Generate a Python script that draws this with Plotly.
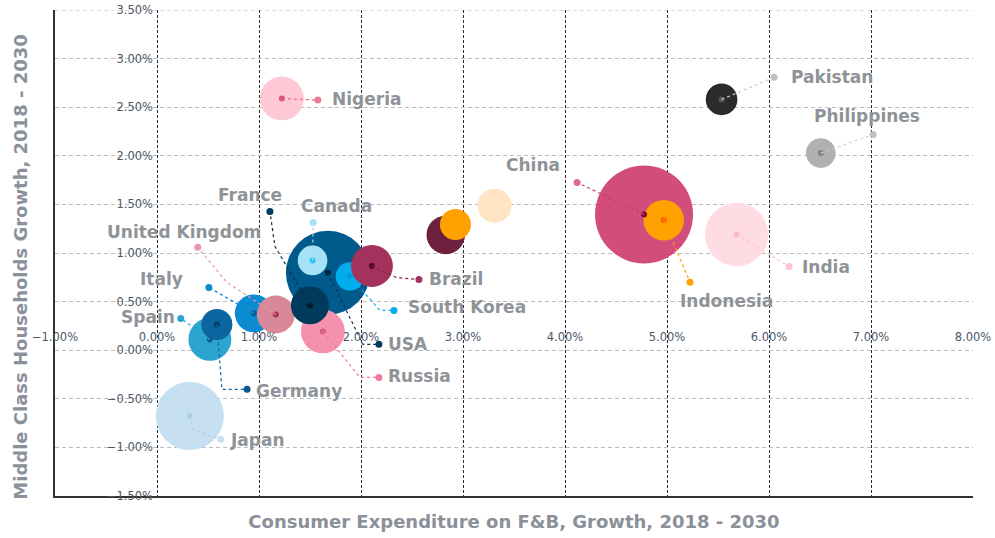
import plotly.graph_objects as go

# ---------------- data ----------------
countries = ["USA", "Canada", "South Korea", "Brazil", "Russia", "Italy", "United Kingdom",
             "France", "Spain", "Germany", "Japan", "China", "Indonesia", "India",
             "", "", "", "Nigeria", "Pakistan", "Philippines"]
fb_growth = [1.675, 1.525, 1.891, 2.107, 1.626, 0.949, 1.165, 1.499, 0.518, 0.587, 0.322,
             4.775, 4.968, 5.682, 2.831, 2.926, 3.310, 1.224, 5.535, 6.508]
mc_growth = [0.796, 0.924, 0.759, 0.867, 0.193, 0.379, 0.368, 0.461, 0.111, 0.265, -0.676,
             1.397, 1.337, 1.191, 1.186, 1.294, 1.487, 2.590, 2.580, 2.028]
market_size = [176, 22, 20, 44, 48, 36, 36, 36, 46, 24, 116, 240, 41, 100, 37, 24, 29, 48, 25, 22]

# ---------------- styles ----------------
bubble_colors = ["#005a8c", "#a6e2f7", "#00aeef", "#a3325d", "#f590ae", "#0a8bd2", "#d9889a",
                 "#003a5c", "#2ba5cf", "#0b65a0", "#c7e0f1", "#d24d7c", "#ffa100", "#ffdbe4",
                 "#6e203f", "#ffa100", "#ffe5c4", "#ffc8d5", "#2b2b2b", "#b0b0b0"]
center_colors = ["#00243d", "#2ec4f4", "#0096d6", "#4d0a24", "#d95a80", "#0a5f99", "#a8324f",
                 "#001828", "#0a5d95", "#053e68", "#a9d0ea", "#7d0f35", "#ff6000", "#ffb8c9",
                 None, None, None, "#d8587c", "#555555", "#808080"]

# label layout (leader end dot, optional bend, text position) for labelled countries
label_names = ["USA", "Canada", "South Korea", "Brazil", "Russia", "Italy", "United Kingdom",
               "France", "Spain", "Germany", "Japan", "China", "Indonesia", "India",
               "Nigeria", "Pakistan", "Philippines"]
label_dot_x = [2.175, 1.531, 2.323, 2.568, 2.175, 0.508, 0.400, 1.107, 0.233, 0.883, 0.626,
               4.118, 5.226, 6.197, 1.577, 6.050, 7.021]
label_dot_y = [0.060, 1.315, 0.409, 0.728, -0.280, 0.646, 1.058, 1.428, 0.327, -0.403, -0.917,
               1.726, 0.698, 0.862, 2.573, 2.807, 2.220]
label_bend_x = [2.019, None, 2.185, 2.352, 1.989, None, 0.685, 1.156, None, 0.636, 0.354,
                None, None, None, None, None, None]
label_bend_y = [0.060, None, 0.409, 0.745, -0.280, None, 0.698, 1.068, None, -0.403, -0.815,
                None, None, None, None, None, None]
label_text_x = [2.244, 1.764, 2.440, 2.647, 2.244, 0.273, 0.263, 0.910, 0.194, 0.949, 0.694,
                3.686, 5.579, 6.305, 1.695, 6.197, 6.962]
label_text_y = [0.060, 1.479, 0.440, 0.728, -0.270, 0.728, 1.212, 1.593, 0.337, -0.424, -0.928,
                1.901, 0.502, 0.852, 2.580, 2.806, 2.405]
label_anchor = ["left", "center", "left", "left", "left", "right", "center", "center", "right",
                "left", "left", "center", "center", "left", "left", "left", "center"]
leader_colors = ["#0a3350", "#9fdcf3", "#00aeef", "#8a1f47", "#f07a9c", "#0a8bd2", "#e996ab",
                 "#0d2a40", "#2ba5cf", "#0b65a0", "#a9cfe8", "#c43a6b", "#ffa100", "#ffc2d1",
                 "#e0607f", "#cccccc", "#cfcfcf"]
end_colors = ["#003a5c", "#a6e2f7", "#00aeef", "#a3325d", "#f07a9c", "#0a8bd2", "#e996ab",
              "#003a5c", "#2ba5cf", "#0b5a92", "#c7e0f1", "#e06a92", "#ffa100", "#ffc2d1",
              "#e87a95", "#c0c0c0", "#bfbfbf"]

X_RANGE = [-1, 8]
Y_RANGE = [-1.5, 3.5]
MAX_R = 49
LABEL_FONT = dict(family="DejaVu Sans", size=17, color="#8f9398", weight="bold")
TITLE_FONT = dict(family="DejaVu Sans", size=18, color="#8b9099", weight="bold")
TICK_FONT = dict(family="DejaVu Sans", size=11.5, color="#4d5866")

fig = go.Figure()

# bubbles
fig.add_trace(go.Scatter(
    x=fb_growth, y=mc_growth, mode="markers",
    marker=dict(size=market_size, sizemode="area",
                sizeref=max(market_size) / (2 * MAX_R ** 2),
                color=bubble_colors, opacity=1, line=dict(width=0)),
    text=countries, hoverinfo="text", showlegend=False))

# centre dots
cx = [fb_growth[i] for i in range(len(countries)) if center_colors[i]]
cy = [mc_growth[i] for i in range(len(countries)) if center_colors[i]]
cc = [c for c in center_colors if c]
fig.add_trace(go.Scatter(x=cx, y=cy, mode="markers",
                         marker=dict(size=6, color=cc, line=dict(width=0)),
                         hoverinfo="skip", showlegend=False))

# leader lines + end dots + labels
for k, name in enumerate(label_names):
    i = countries.index(name)
    xs = [fb_growth[i]]
    ys = [mc_growth[i]]
    if label_bend_x[k] is not None:
        xs.append(label_bend_x[k])
        ys.append(label_bend_y[k])
    xs.append(label_dot_x[k])
    ys.append(label_dot_y[k])
    fig.add_trace(go.Scatter(x=xs, y=ys, mode="lines",
                             line=dict(color=leader_colors[k], width=1.2, dash="dot"),
                             hoverinfo="skip", showlegend=False))
    fig.add_trace(go.Scatter(x=[label_dot_x[k]], y=[label_dot_y[k]], mode="markers",
                             marker=dict(size=7, color=end_colors[k], line=dict(width=0)),
                             hoverinfo="skip", showlegend=False))
    fig.add_annotation(x=label_text_x[k], y=label_text_y[k], text=name, showarrow=False,
                       xanchor=label_anchor[k], yanchor="middle", font=LABEL_FONT)

# dummy trace for the tick-label axes that cross at zero
fig.add_trace(go.Scatter(x=[None], y=[None], xaxis="x2", yaxis="y2",
                         hoverinfo="skip", showlegend=False))

# top border gridline (dashed grey)
fig.add_shape(type="line", xref="paper", yref="y", x0=0, x1=1, y0=Y_RANGE[1], y1=Y_RANGE[1],
              line=dict(color="#bdbdbd", width=1, dash="4px,3px"), layer="below")

# y-axis title (placed as in the original, slightly below centre)
fig.add_annotation(text="Middle Class Households Growth, 2018 - 2030", textangle=-90,
                   xref="paper", yref="paper", x=-0.038, y=0.47, xanchor="center",
                   yanchor="middle", showarrow=False, font=TITLE_FONT)

fig.update_layout(
    width=995, height=538,
    margin=dict(l=55, r=22, t=10, b=42),
    plot_bgcolor="white", paper_bgcolor="white",
    font=dict(family="DejaVu Sans"),
    xaxis=dict(range=X_RANGE, tick0=0, dtick=1, showgrid=True, gridcolor="#2a2a2a",
               griddash="3px,2px", gridwidth=1, zeroline=False, showline=True,
               linecolor="#333333", linewidth=1.5, showticklabels=False, ticks="",
               automargin=False,
               title=dict(text="Consumer Expenditure on F&B, Growth, 2018 - 2030",
                          font=TITLE_FONT, standoff=19)),
    yaxis=dict(range=Y_RANGE, tick0=0, dtick=0.5, showgrid=True, gridcolor="#bdbdbd",
               griddash="4px,3px", gridwidth=1, zeroline=False, showline=True,
               linecolor="#333333", linewidth=1.5, showticklabels=False, ticks="",
               automargin=False),
    xaxis2=dict(range=X_RANGE, overlaying="x", anchor="free",
                position=(0 - Y_RANGE[0]) / (Y_RANGE[1] - Y_RANGE[0]), side="top",
                tick0=0, dtick=1, tickformat=".2f", ticksuffix="%", showgrid=False,
                zeroline=False, showline=False, ticks="", tickfont=TICK_FONT,
                ticklabelstandoff=7, automargin=False),
    yaxis2=dict(range=Y_RANGE, overlaying="y", anchor="free",
                position=(0 - X_RANGE[0]) / (X_RANGE[1] - X_RANGE[0]), side="left",
                tick0=0, dtick=0.5, tickformat=".2f", ticksuffix="%", showgrid=False,
                zeroline=False, showline=False, ticks="", tickfont=TICK_FONT,
                ticklabelstandoff=4, automargin=False),
)

fig.write_html("out.html", config={"displayModeBar": False},
               post_script="document.body.style.margin='0';")
